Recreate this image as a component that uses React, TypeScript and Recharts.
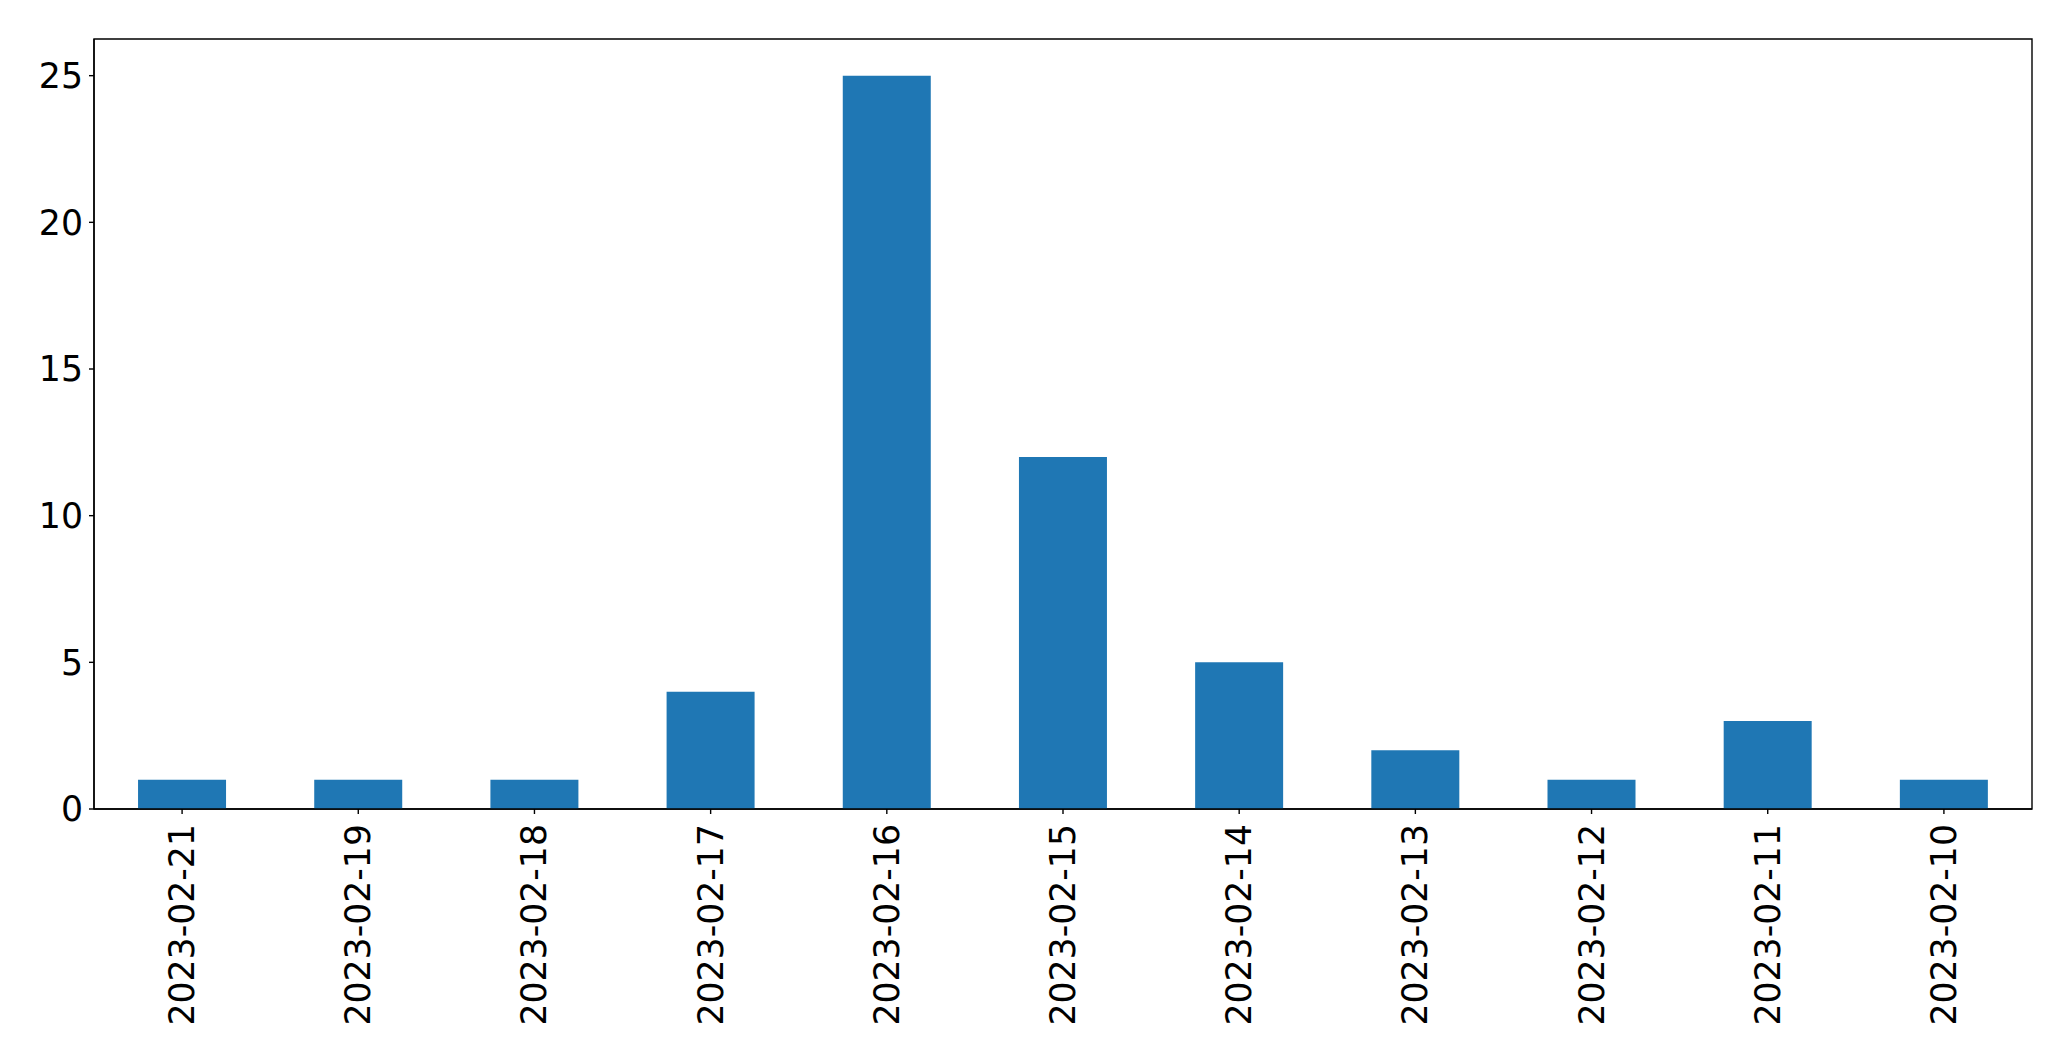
import { BarChart, Bar, XAxis, YAxis, ReferenceArea } from 'recharts'

const dates = [
  '2023-02-21',
  '2023-02-19',
  '2023-02-18',
  '2023-02-17',
  '2023-02-16',
  '2023-02-15',
  '2023-02-14',
  '2023-02-13',
  '2023-02-12',
  '2023-02-11',
  '2023-02-10',
]
const counts = [1, 1, 1, 4, 25, 12, 5, 2, 1, 3, 1]
const yTicks = [0, 5, 10, 15, 20, 25]
const yMax = 26.25

const data = dates.map((d, i) => ({ date: d, count: counts[i] }))

const FONT = 'DejaVu Sans'
const FONT_SIZE = 34.7
const LINE_W = 1.4

function DateTick({ x, y, payload }: any) {
  return (
    <text
      transform={`translate(${x},${y + 8}) rotate(-90)`}
      textAnchor="end"
      dominantBaseline="central"
      fontFamily={FONT}
      fontSize={FONT_SIZE}
      fill="#000"
    >
      {payload.value}
    </text>
  )
}

export default function App() {
  return (
    <div style={{ position: 'absolute', left: 0, top: 0, background: '#fff' }}>
      <BarChart
        width={2071}
        height={1061}
        data={data}
        margin={{ top: 39, right: 39, bottom: 0, left: 0 }}
        barCategoryGap="25%"
      >
        <XAxis
          dataKey="date"
          height={252}
          interval={0}
          tick={<DateTick />}
          tickSize={5}
          stroke="#000"
          tickLine={{ stroke: '#000', strokeWidth: LINE_W }}
          axisLine={{ stroke: '#000', strokeWidth: LINE_W }}
        />
        <YAxis
          width={94}
          domain={[0, yMax]}
          ticks={yTicks}
          tickSize={5}
          tickMargin={6}
          stroke="#000"
          tick={{ fontFamily: FONT, fontSize: FONT_SIZE, fill: '#000' }}
          tickLine={{ stroke: '#000', strokeWidth: LINE_W }}
          axisLine={{ stroke: '#000', strokeWidth: LINE_W }}
        />
        <Bar dataKey="count" fill="#1f77b4" isAnimationActive={false} />
        <ReferenceArea
          y1={0}
          y2={yMax}
          fill="none"
          fillOpacity={0}
          stroke="#000"
          strokeWidth={LINE_W}
          strokeOpacity={1}
        />
      </BarChart>
    </div>
  )
}
